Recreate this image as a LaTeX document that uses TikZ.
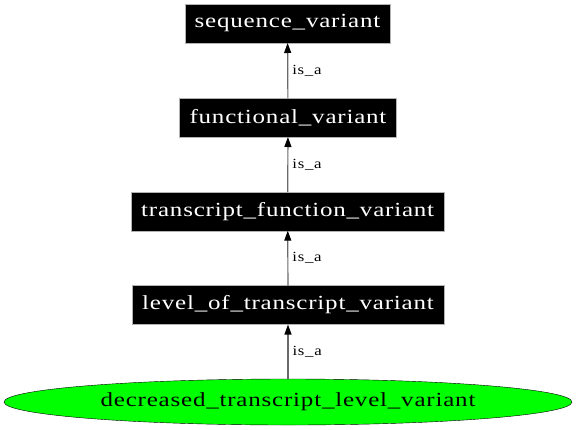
\documentclass[tikz,border=0pt]{standalone}
\usepackage{fontspec}
\newfontfamily\gvfont[FakeStretch=1.25,LetterSpace=4]{Liberation Serif}
\newfontfamily\gvsmall[FakeStretch=1.2,LetterSpace=5]{Liberation Serif}
\usetikzlibrary{arrows.meta}
\usetikzlibrary{shapes.geometric}
\definecolor{edgegray}{RGB}{105,105,105}
\definecolor{leafgreen}{RGB}{0,255,0}

\begin{document}
\begin{tikzpicture}[x=1pt, y=-1pt, line cap = round, line join = round, >={Triangle[length=10pt,width=7pt,color=black]}]
\tikzstyle{term}=[rectangle, fill=black, draw=gray!60, text=white, font=\gvfont\fontsize{20}{24}\selectfont, inner xsep=10pt, inner ysep=0pt, minimum height=39pt, outer sep=0pt]
\tikzstyle{leaf}=[ellipse, fill=leafgreen, draw=black, text=black, font=\gvfont\fontsize{20}{24}\selectfont, inner sep=0pt, minimum width=568pt, minimum height=46pt, outer sep=0pt]
\tikzstyle{isa}=[very thick, color=edgegray, ->]
\tikzstyle{lbl}=[font=\gvsmall\fontsize{14}{16}\selectfont, text=black, inner sep=1pt]
\useasboundingbox (0,0) rectangle (576,429);
\node[term] (seq)  at (287.5, 23.5) {sequence\_variant};
\node[term] (func) at (288, 117.5)  {functional\_variant};
\node[term] (tfv)  at (287.7, 211.2) {transcript\_function\_variant};
\node[term] (lotv) at (288, 305)    {level\_of\_transcript\_variant};
\node[leaf] (dtlv) at (288, 402)    {decreased\_transcript\_level\_variant};

\draw[isa] (func) -- (seq)  node[lbl, midway, right=3pt]{is\_a};
\draw[isa] (tfv)  -- (func) node[lbl, midway, right=3pt]{is\_a};
\draw[isa] (lotv) -- (tfv)  node[lbl, midway, right=3pt]{is\_a};
\draw[isa] (dtlv) -- (lotv) node[lbl, midway, right=3pt]{is\_a};
\end{tikzpicture}
\end{document}
